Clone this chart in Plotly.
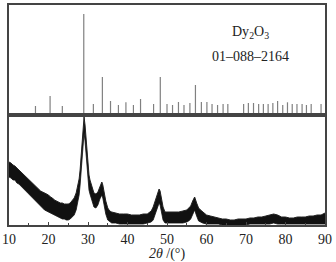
import plotly.graph_objects as go
from plotly.subplots import make_subplots

# Reference stick pattern (PDF 01-088-2164, Dy2O3)
ref_pos = [16.7, 20.4, 23.5, 28.93, 31.36, 33.64, 35.7, 37.7, 39.6, 41.5, 43.3,
           46.6, 48.3, 50.0, 51.4, 52.9, 54.3, 55.8, 57.2, 58.7, 60.1, 61.4, 62.8,
           64.2, 65.4, 69.4, 70.6, 71.9, 73.2, 74.4, 75.6, 76.8, 78.0, 79.3, 80.5,
           81.7, 82.9, 84.2, 85.3, 86.5, 89.0]
ref_int = [9, 19, 9, 101, 11, 38, 14, 10, 12.7, 10, 16,
           11, 38, 11, 10, 13, 10, 12, 30, 13, 13, 11, 10,
           11, 11, 11, 12, 12, 11, 11, 11, 12, 14, 10, 12.7,
           11, 11, 11, 10, 11, 11]

two_theta = [10.0, 10.5, 11.0, 11.5, 12.0, 12.5, 13.0, 13.5, 14.0, 14.5, 15.0, 15.5,
             16.0, 16.5, 17.0, 17.5, 18.0, 18.5, 19.0, 19.5, 20.0, 20.5, 21.0, 21.5,
             22.0, 22.5, 23.0, 23.5, 24.0, 24.5, 25.0, 25.5, 26.0, 26.5, 27.0, 27.5,
             27.75, 28.0, 28.25, 28.5, 28.75, 29.0, 29.25, 29.5, 29.75, 30.0, 30.25,
             30.5, 31.0, 31.5, 32.0, 32.5, 33.0, 33.5, 33.75, 34.0, 34.5, 35.0, 35.5,
             36.0, 37.0, 38.0, 39.0, 40.0, 41.0, 42.0, 43.0, 44.0, 45.0, 46.0, 46.5,
             47.0, 47.5, 48.0, 48.25, 48.5, 49.0, 49.5, 50.0, 51.0, 52.0, 53.0, 54.0,
             55.0, 55.5, 56.0, 56.5, 57.0, 57.5, 58.0, 58.5, 59.0, 60.0, 61.0, 62.0,
             63.0, 64.0, 65.0, 66.0, 67.0, 68.0, 69.0, 70.0, 71.0, 72.0, 73.0, 74.0,
             75.0, 76.0, 77.0, 78.0, 79.0, 80.0, 81.0, 82.0, 83.0, 84.0, 85.0, 86.0,
             87.0, 88.0, 89.0, 90.0]
upper = [63, 62, 60, 59, 57, 55, 54, 52, 50, 48, 46, 44,
         42, 40, 37, 35, 34, 33, 32, 31, 30, 28, 27, 25,
         24, 23, 22, 22, 21, 21, 21, 22, 24, 27, 32, 40,
         46, 55, 68, 82, 98, 108, 100, 88, 72, 58, 50,
         45, 38, 32, 31, 33, 38, 43, 40, 33, 24, 17, 14,
         13, 12, 11, 11, 11, 10, 10, 10, 11, 11, 14, 18,
         24, 31, 36, 34, 28, 18, 13, 13, 13, 13, 13, 14,
         15, 17, 19, 24, 28, 22, 17, 15, 13, 10, 9, 8,
         7, 6, 6, 5, 5, 6, 6, 6, 7, 7, 8, 8,
         9, 10, 11, 10, 8, 8, 7, 7, 8, 8, 8, 9,
         9, 10, 10, 12]
lower = [48, 47, 45, 45, 42, 41, 39, 37, 35, 33, 31, 29,
         27, 25, 22, 20, 19, 17, 15, 14, 13, 12, 11, 10,
         9, 8, 7, 6, 6, 5, 5, 6, 8, 10, 15, 23,
         30, 40, 52, 66, 82, 92, 84, 70, 56, 42, 35,
         31, 25, 18, 17, 20, 26, 30, 27, 20, 11, 5, 3,
         2, 2, 1, 1, 1, 1, 1, 1, 1, 2, 3, 5,
         10, 17, 22, 20, 14, 5, 2, 2, 2, 2, 2, 2,
         3, 4, 6, 10, 15, 9, 4, 3, 2, 1, 1, 1,
         1, 0, 0, 0, 0, 0, 0, 0, 1, 1, 1, 1,
         1, 1, 2, 1, 1, 1, 1, 1, 1, 1, 1, 1,
         1, 1, 1, 1]

x_ticks = [10, 20, 30, 40, 50, 60, 70, 80, 90]

fig = make_subplots(rows=2, cols=1, shared_xaxes=True, vertical_spacing=0)

# sticks
sx, sy = [], []
for p, h in zip(ref_pos, ref_int):
    sx += [p, p, None]
    sy += [0, h, None]
fig.add_trace(go.Scatter(x=sx, y=sy, mode="lines",
                         line=dict(color="#808080", width=1.2),
                         showlegend=False, hoverinfo="skip"), row=1, col=1)

# measured band
fig.add_trace(go.Scatter(x=two_theta, y=lower, mode="lines",
                         line=dict(color="#111111", width=0.8),
                         showlegend=False), row=2, col=1)
fig.add_trace(go.Scatter(x=two_theta, y=upper, mode="lines", fill="tonexty",
                         fillcolor="#111111",
                         line=dict(color="#222222", width=1),
                         showlegend=False), row=2, col=1)

font_family = "Liberation Serif, Times New Roman, serif"
axis_common = dict(showline=True, mirror=True, linecolor="#444444", linewidth=1.5,
                   showgrid=False, zeroline=False, range=[10, 90], automargin=False)

fig.update_xaxes(**axis_common, showticklabels=False, ticks="", row=1, col=1)
fig.update_xaxes(**axis_common, tickvals=x_ticks, ticks="inside", ticklen=3,
                 tickwidth=1, tickcolor="#444444",
                 minor=dict(dtick=5, tick0=10, ticks="inside", ticklen=2,
                            tickcolor="#444444"),
                 tickfont=dict(family=font_family, size=14, color="#222222"),
                 title=dict(text="<i>2θ</i> /(°)", standoff=2,
                            font=dict(family=font_family, size=14, color="#222222")),
                 row=2, col=1)
fig.update_yaxes(showline=True, mirror=True, linecolor="#444444", linewidth=1.5,
                 showgrid=False, zeroline=False, showticklabels=False, ticks="",
                 range=[0, 110], automargin=False)

fig.add_annotation(x=0.765, y=0.875, xref="paper", yref="paper", showarrow=False,
                   xanchor="center", yanchor="middle",
                   text="Dy<sub>2</sub>O<sub>3</sub>",
                   font=dict(family=font_family, size=14, color="#222222"))
fig.add_annotation(x=0.765, y=0.765, xref="paper", yref="paper", showarrow=False,
                   xanchor="center", yanchor="middle",
                   text="01–088–2164",
                   font=dict(family=font_family, size=14, color="#222222"))

fig.update_layout(width=336, height=262, margin=dict(l=9, r=11, t=5, b=37),
                  plot_bgcolor="white", paper_bgcolor="white")

fig.write_html("out.html", config={"displayModeBar": False},
               post_script="document.body.style.margin='0';document.body.style.overflow='hidden';")
